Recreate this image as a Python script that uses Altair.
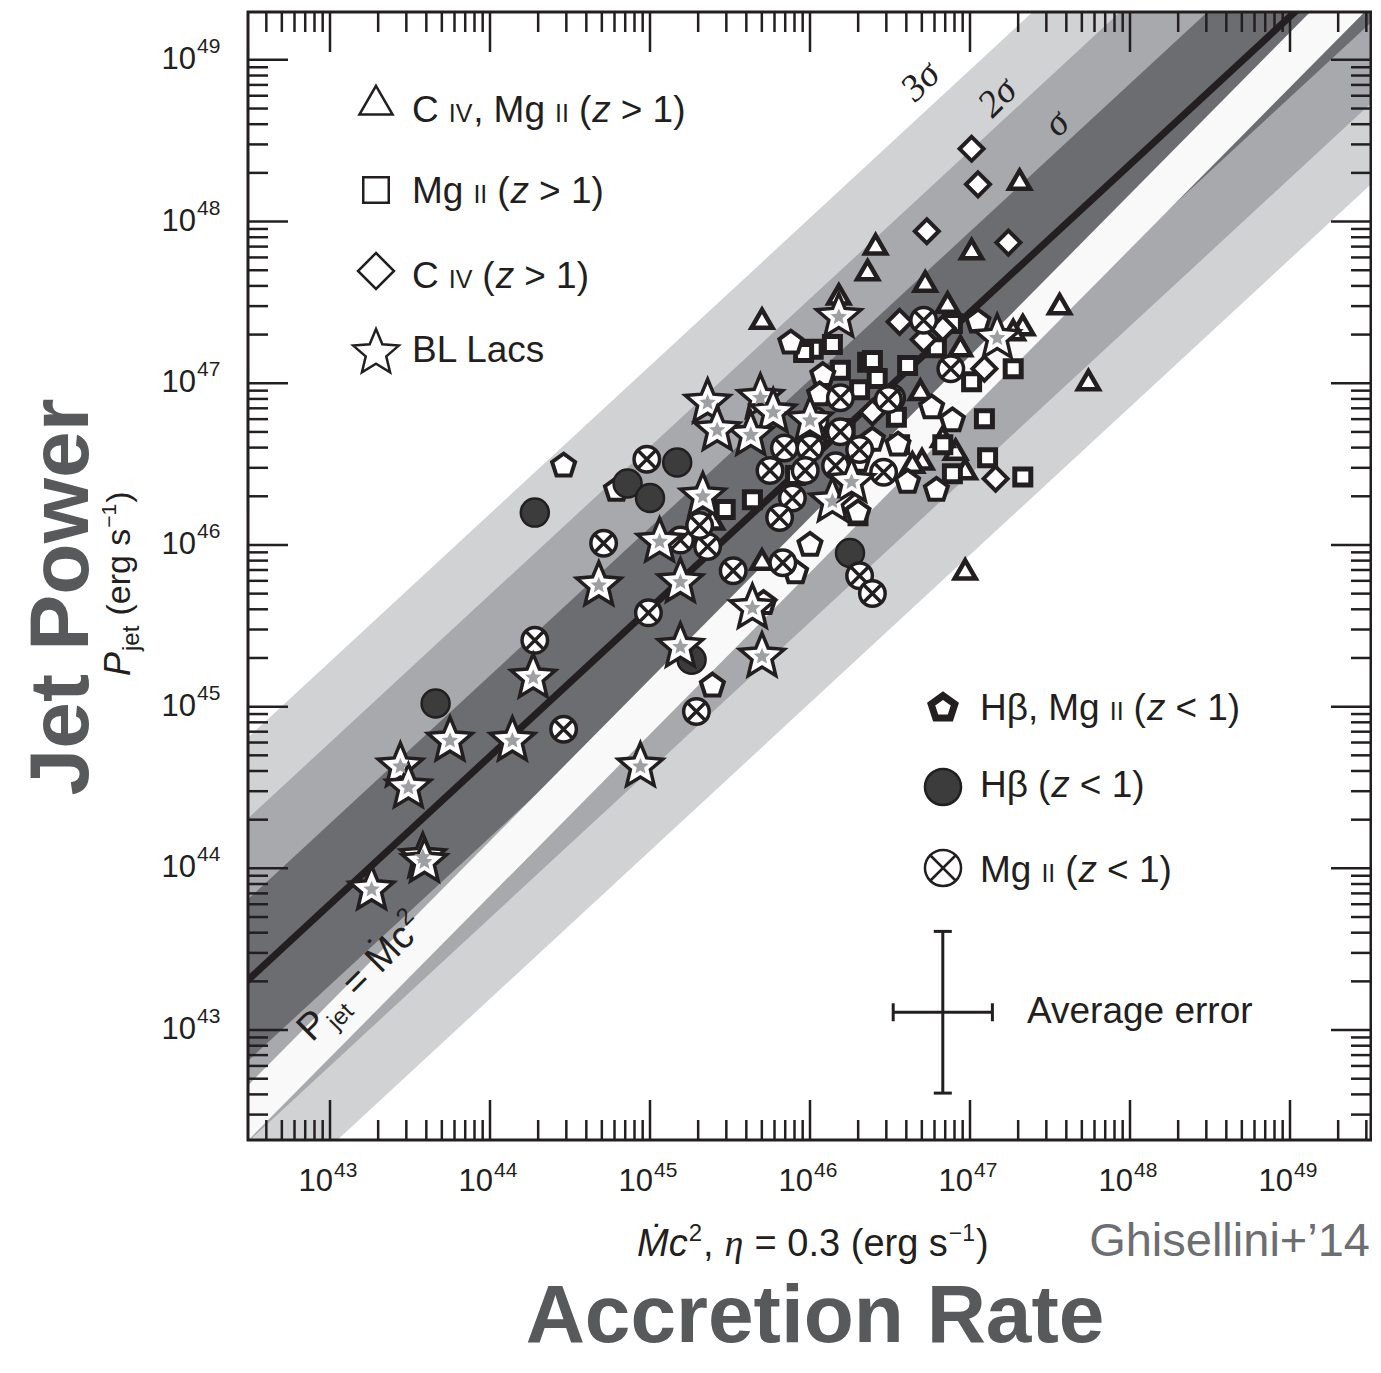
import numpy as np
import pandas as pd
import altair as alt

# ---------------- values (log10 units) ----------------
# C IV, Mg II (z > 1)  -- triangles
TRI_X = [47.31, 46.41, 46.36, 47.01, 46.72, 45.70, 47.56, 47.33, 46.86, 47.74, 46.97,
         46.94, 46.69, 46.70, 46.97, 46.91, 45.70, 45.39, 46.18, 47.27, 46.83, 46.64]
TRI_Y = [48.24, 47.84, 47.68, 47.81, 47.61, 47.38, 47.47, 47.34, 47.48, 47.00, 45.83,
         47.21, 46.94, 46.51, 46.45, 46.57, 45.89, 46.14, 47.53, 47.31, 46.65, 46.49]
# Mg II (z > 1)  -- squares
SQ_X = [46.02, 46.14, 45.96, 46.36, 46.19, 46.42, 46.31, 46.89, 46.61, 46.79, 47.27, 47.01, 47.09,
        47.11, 47.33, 46.89, 46.83, 46.54, 45.64, 45.47, 45.91, 46.39, 46.51, 46.30, 46.56, 46.22]
SQ_Y = [47.21, 47.24, 47.19, 47.13, 47.08, 47.03, 46.96, 47.37, 47.11, 47.22, 47.09, 47.01, 46.78,
        46.54, 46.42, 46.44, 46.62, 46.79, 46.28, 46.22, 46.43, 47.14, 46.91, 46.18, 46.62, 46.72]
# C IV (z > 1)  -- diamonds
DIA_X = [47.01, 47.05, 46.73, 47.24, 46.56, 46.83, 47.09, 46.71, 47.16, 46.39]
DIA_Y = [48.45, 48.23, 47.94, 47.87, 47.38, 47.34, 47.09, 47.27, 46.41, 46.82]
# H beta, Mg II (z < 1)  -- pentagons
PEN_X = [44.46, 44.79, 45.88, 46.08, 47.05, 46.89, 46.76, 46.55, 46.79, 46.61, 46.00, 46.30,
         45.71, 45.39, 46.39, 45.91, 46.30, 46.06]
PEN_Y = [46.49, 46.34, 47.25, 47.05, 47.38, 46.77, 46.85, 46.62, 46.34, 46.39, 46.00, 46.20,
         45.64, 45.13, 46.65, 45.83, 46.52, 46.93]
# H beta (z < 1)  -- filled circles
DOT_X = [44.28, 45.17, 44.86, 45.00, 46.25, 43.66, 45.26]
DOT_Y = [46.20, 46.51, 46.38, 46.29, 45.95, 45.02, 45.29]
# Mg II (z < 1)  -- crossed circles
XC_X = [44.98, 44.71, 44.99, 44.28, 44.46, 45.29, 45.89, 45.81, 45.83, 45.52, 45.36, 46.31, 46.39,
        46.19, 46.19, 46.02, 46.71, 46.88, 46.51, 46.46, 46.31, 46.00, 45.84, 45.75, 46.03, 45.19,
        46.49, 45.31, 46.16, 45.97]
XC_Y = [46.53, 46.01, 45.58, 45.41, 44.86, 44.97, 46.29, 46.17, 45.89, 45.84, 45.99, 45.81, 45.70,
        46.91, 46.70, 46.67, 47.39, 47.09, 46.91, 46.45, 46.59, 46.60, 46.60, 46.46, 46.77, 46.03,
        46.90, 46.12, 46.49, 46.46]
# BL Lacs  -- stars
STAR_X = [46.18, 47.17, 45.36, 45.69, 45.77, 45.63, 45.42, 46.00, 46.14, 46.26, 45.33, 45.06, 44.68,
          45.19, 45.64, 45.70, 45.19, 44.27, 43.75, 44.14, 43.44, 43.49, 43.58, 43.26, 44.94, 43.59]
STAR_Y = [47.41, 47.28, 46.88, 46.91, 46.82, 46.68, 46.71, 46.77, 46.27, 46.39, 46.30, 46.02, 45.75,
          45.77, 45.61, 45.31, 45.37, 45.18, 44.79, 44.79, 44.63, 44.50, 44.07, 43.87, 44.63, 44.04]

FIT_SLOPE = 0.915       # log Pjet = a + b log(Mdot c^2)
FIT_INTERCEPT = 4.433
SIGMA = 0.5             # dex
STRIP_HALF = 0.17       # half width of the Pjet = Mdot c^2 strip (dex)

ERR_X, ERR_Y, ERR_DX, ERR_DY = 46.83, 43.11, 0.31, 0.50

DECADES_X = [43, 44, 45, 46, 47, 48, 49]
DECADES_Y = [43, 44, 45, 46, 47, 48, 49]

# ---------------- layout / styling ----------------
W, H = 1123, 1128
X_LO = 42.4875
X_HI = X_LO + W / 160.0
Y_LO, Y_HI = 42.32, 49.296
INK = "#231f20"
FONT = "Liberation Sans"
LIGHT, MED, DARK, STRIP = "#d1d2d4", "#a8a9ac", "#6c6d70", "#f9f9f9"
GREY_TITLE = "#58595b"

xs = alt.Scale(type="log", domain=[10 ** X_LO, 10 ** X_HI], nice=False)
ys = alt.Scale(type="log", domain=[10 ** Y_LO, 10 ** Y_HI], nice=False)


def X(f):
    return alt.X(f"{f}:Q", scale=xs, axis=None)


def Y(f):
    return alt.Y(f"{f}:Q", scale=ys, axis=None)


def poly(n, r_out=1.0, r_in=None):
    p = []
    k = n * 2 if r_in else n
    for i in range(k):
        r = r_out if (r_in is None or i % 2 == 0) else r_in
        a = -np.pi / 2 + i * 2 * np.pi / k
        p.append((r * np.cos(a), r * np.sin(a)))
    return "M" + "L".join(f"{x:.4f},{y:.4f}" for x, y in p) + "Z"


STAR = poly(5, 1.0, 0.45)
PENT = poly(5)
TRI = "M0,-1.1547L1,0.5774L-1,0.5774Z"
SQR = "M-1,-1L1,-1L1,1L-1,1Z"
DIAM = "M0,-1L1,0L0,1L-1,0Z"
CIRC = "M-1,0A1,1,0,1,0,1,0A1,1,0,1,0,-1,0Z"
XCIRC = CIRC + "M-0.7071,-0.7071L0.7071,0.7071M-0.7071,0.7071L0.7071,-0.7071"

ONE = alt.Data(values=[{"a": 1}])

# approximate advance widths (em) of the sans font, used to set text runs side by side
ADV = {"C": .722, "I": .278, "V": .667, ",": .278, " ": .278, "M": .833, "Ṁ": .833, "g": .556,
       "(": .333, ")": .333, "z": .5, ">": .584, "<": .584, "=": .584, "1": .556, "0": .556,
       "3": .556, ".": .278, "B": .667, "L": .556, "a": .556, "c": .5, "s": .5, "H": .722,
       "β": .575, "e": .556, "r": .333, "j": .222, "t": .278, "P": .667, "η": .5, "−": .584,
       "2": .556}


def adv(text, fs):
    return sum(ADV.get(ch, .556) for ch in text) * fs


def label(text, px, py, **mk):
    props = dict(font=FONT, color=INK, align="left", baseline="alphabetic")
    props.update(mk)
    return alt.Chart(ONE).mark_text(**props).encode(
        x=alt.value(px), y=alt.value(py), text=alt.value(text))


def run(pieces, px, py, angle=0):
    """pieces: (text, fontSize, style, rise, font); text None = gap of given width in em of base."""
    out, pos = [], 0.0
    for text, fs, style, rise, font in pieces:
        if text is None:
            pos += fs
            continue
        mk = dict(fontSize=fs, fontStyle=style, font=font or FONT)
        if angle:
            out.append(label(text, px, py, angle=angle, dx=round(pos, 1), dy=-rise, **mk))
        else:
            out.append(label(text, round(px + pos, 1), py - rise, **mk))
        pos += adv(text, fs) + 1
    return out


def symbol(shape, px, py, size, **mk):
    props = dict(shape=shape, size=size, filled=True, fill="white", stroke=INK,
                 strokeWidth=2.5, opacity=1)
    props.update(mk)
    return alt.Chart(ONE).mark_point(**props).encode(x=alt.value(px), y=alt.value(py))


def pts(xv, yv):
    return pd.DataFrame({"x": 10 ** np.array(xv), "y": 10 ** np.array(yv)})


# ---------------- bands, strip, fit ----------------
grid = np.array([X_LO - 1.0, X_HI + 1.0])
fit = FIT_INTERCEPT + FIT_SLOPE * grid


def band_df(k):
    return pd.DataFrame({"x": 10 ** grid, "lo": 10 ** (fit - k * SIGMA), "hi": 10 ** (fit + k * SIGMA)})


layers = []
for k, col in [(3, LIGHT), (2, MED), (1, DARK)]:
    layers.append(alt.Chart(band_df(k)).mark_area(clip=True, color=col, opacity=1).encode(
        x=X("x"), y=Y("lo"), y2="hi:Q"))
strip = pd.DataFrame({"x": 10 ** grid, "lo": 10 ** (grid - STRIP_HALF), "hi": 10 ** (grid + STRIP_HALF)})
layers.append(alt.Chart(strip).mark_area(clip=True, color=STRIP, opacity=1).encode(
    x=X("x"), y=Y("lo"), y2="hi:Q"))
fit_df = pd.DataFrame({"x": 10 ** grid, "y": 10 ** fit})
layers.append(alt.Chart(fit_df).mark_line(clip=True, color=INK, strokeWidth=7).encode(x=X("x"), y=Y("y")))

# strip label  P_jet = Mdot c^2
layers += run([("P", 38, "normal", 0, None), ("jet", 24, "normal", -9, None), (None, 11, None, 0, None),
               ("=", 38, "normal", 0, None), (None, 10, None, 0, None), ("Ṁc", 38, "normal", 0, None),
               ("2", 24, "normal", 16, None)], 64, 1031, angle=315)
# sigma labels
for t, px, py in [("3σ", 673, 70), ("2σ", 750, 86), ("σ", 809, 112)]:
    layers.append(label(t, px, py, angle=315, fontSize=38, font="Liberation Serif",
                        fontStyle="italic", align="center", baseline="middle"))

# ---------------- data points ----------------
PT = dict(filled=True, fill="white", stroke=INK, opacity=1)
layers.append(alt.Chart(pts(TRI_X, TRI_Y)).mark_point(shape=TRI, size=441, strokeWidth=4.5, **PT).encode(
    x=X("x"), y=Y("y")))
layers.append(alt.Chart(pts(SQ_X, SQ_Y)).mark_point(shape=SQR, size=256, strokeWidth=5, **PT).encode(
    x=X("x"), y=Y("y")))
layers.append(alt.Chart(pts(DIA_X, DIA_Y)).mark_point(shape=DIAM, size=576, strokeWidth=4, **PT).encode(
    x=X("x"), y=Y("y")))
layers.append(alt.Chart(pts(PEN_X, PEN_Y)).mark_point(shape=PENT, size=585, strokeWidth=4, **PT).encode(
    x=X("x"), y=Y("y")))
layers.append(alt.Chart(pts(DOT_X, DOT_Y)).mark_point(
    shape=CIRC, size=784, strokeWidth=2.5, filled=True, fill="#3c3c3d", stroke=INK, opacity=1).encode(
    x=X("x"), y=Y("y")))
layers.append(alt.Chart(pts(XC_X, XC_Y)).mark_point(shape=XCIRC, size=650, strokeWidth=3.5, **PT).encode(
    x=X("x"), y=Y("y")))
layers.append(alt.Chart(pts(STAR_X, STAR_Y)).mark_point(shape=STAR, size=2190, strokeWidth=3.5, **PT).encode(
    x=X("x"), y=Y("y")))
layers.append(alt.Chart(pts(STAR_X, STAR_Y)).mark_point(
    shape=STAR, size=300, filled=True, fill="#9d9fa2", strokeWidth=0, opacity=1).encode(
    x=X("x"), y=Y("y")))

# ---------------- average error bar ----------------
err = pd.DataFrame({
    "x": [10 ** ERR_X], "y": [10 ** ERR_Y],
    "xl": [10 ** (ERR_X - ERR_DX)], "xh": [10 ** (ERR_X + ERR_DX)],
    "yl": [10 ** (ERR_Y - ERR_DY)], "yh": [10 ** (ERR_Y + ERR_DY)]})
layers.append(alt.Chart(err).mark_rule(color=INK, strokeWidth=3).encode(x=X("xl"), x2="xh:Q", y=Y("y")))
layers.append(alt.Chart(err).mark_rule(color=INK, strokeWidth=3).encode(x=X("x"), y=Y("yl"), y2="yh:Q"))
for fx, fy, orient in [("xl", "y", "vertical"), ("xh", "y", "vertical"),
                       ("x", "yl", "horizontal"), ("x", "yh", "horizontal")]:
    layers.append(alt.Chart(err).mark_tick(color=INK, orient=orient, size=18, thickness=3, opacity=1).encode(
        x=X(fx), y=Y(fy)))
layers.append(label("Average error", 779, 1011, fontSize=37))

# ---------------- legends ----------------
layers += [
    symbol(TRI, 128, 93, 1100),
    symbol(SQR, 128, 178, 650),
    symbol(DIAM, 128, 259, 1296),
    symbol(STAR, 128, 341, 2300),
    symbol(PENT, 695, 696, 620, stroke=INK, strokeWidth=7),
    symbol(CIRC, 695, 775, 1300, fill="#3c3c3d", strokeWidth=2.5),
    symbol(XCIRC, 695, 856, 1300, strokeWidth=2.5),
]
B, S = 37, 25
N = lambda t, fs=B: (t, fs, "normal", 0, None)
I_ = lambda t: (t, B, "italic", 0, None)
GAP = (None, 9, None, 0, None)
layers += run([N("C"), GAP, N("IV", S), N(","), GAP, N("Mg"), GAP, N("II", S), GAP, N("("), I_("z"),
               GAP, N("> 1)")], 164, 110)
layers += run([N("Mg"), GAP, N("II", S), GAP, N("("), I_("z"), GAP, N("> 1)")], 164, 191)
layers += run([N("C"), GAP, N("IV", S), GAP, N("("), I_("z"), GAP, N("> 1)")], 164, 276)
layers += run([N("BL Lacs")], 164, 350)
layers += run([N("Hβ,"), GAP, N("Mg"), GAP, N("II", S), GAP, N("("), I_("z"), GAP, N("< 1)")], 732, 708)
layers += run([N("Hβ"), GAP, N("("), I_("z"), GAP, N("< 1)")], 732, 785)
layers += run([N("Mg"), GAP, N("II", S), GAP, N("("), I_("z"), GAP, N("< 1)")], 732, 870)

# ---------------- inward ticks ----------------
def minor_vals(decades, lo, hi):
    out = []
    for d in range(min(decades) - 1, max(decades) + 1):
        for m in range(2, 10):
            v = d + np.log10(m)
            if lo < v < hi:
                out.append(10 ** v)
    return pd.DataFrame({"v": out})


maj_x = pd.DataFrame({"v": [10.0 ** d for d in DECADES_X], "t": [str(d) for d in DECADES_X]})
maj_y = pd.DataFrame({"v": [10.0 ** d for d in DECADES_Y], "t": [str(d) for d in DECADES_Y]})
min_x = minor_vals(DECADES_X, X_LO, X_HI)
min_y = minor_vals(DECADES_Y, Y_LO, Y_HI)
TK = dict(color=INK, strokeWidth=2.5)
for df, ln in [(maj_x, 40), (min_x, 20)]:
    layers.append(alt.Chart(df).mark_rule(**TK).encode(x=X("v"), y=alt.value(H), y2=alt.value(H - ln)))
    layers.append(alt.Chart(df).mark_rule(**TK).encode(x=X("v"), y=alt.value(0), y2=alt.value(ln)))
for df, ln in [(maj_y, 40), (min_y, 20)]:
    layers.append(alt.Chart(df).mark_rule(**TK).encode(y=Y("v"), x=alt.value(0), x2=alt.value(ln)))
    layers.append(alt.Chart(df).mark_rule(**TK).encode(y=Y("v"), x=alt.value(W), x2=alt.value(W - ln)))

# frame
layers.append(alt.Chart(ONE).mark_rect(fillOpacity=0, stroke=INK, strokeWidth=3).encode(
    x=alt.value(0), x2=alt.value(W), y=alt.value(0), y2=alt.value(H)))

# tick labels: 10^n
TL = dict(font=FONT, color=INK)
layers.append(alt.Chart(maj_x).mark_text(fontSize=31, align="right", baseline="top", dx=3, **TL).encode(
    x=X("v"), y=alt.value(H + 27), text=alt.value("10")))
layers.append(alt.Chart(maj_x).mark_text(fontSize=21, align="left", baseline="top", dx=4, **TL).encode(
    x=X("v"), y=alt.value(H + 20), text="t:N"))
layers.append(alt.Chart(maj_y).mark_text(fontSize=31, align="right", baseline="middle", **TL).encode(
    x=alt.value(-52), y=Y("v"), text=alt.value("10")))
layers.append(alt.Chart(maj_y).mark_text(fontSize=21, align="left", baseline="middle", dy=-13, **TL).encode(
    x=alt.value(-51), y=Y("v"), text="t:N"))

# ---------------- titles ----------------
layers.append(label("Jet Power", -160, 585, angle=270, align="center", fontSize=84, fontWeight="bold",
                    color=GREY_TITLE))
layers += run([("P", 36, "italic", 0, None), ("jet", 24, "normal", -9, None), (None, 9, None, 0, None),
               ("(erg s", 34, "normal", 0, None), ("−1", 21, "normal", 14, None), (")", 34, "normal", 0, None)],
              -118, 664, angle=270)
layers += run([("Ṁc", 38, "italic", 0, None), ("2", 24, "normal", 15, None), (",", 38, "normal", 0, None),
               (None, 10, None, 0, None), ("η", 38, "italic", 0, "Liberation Serif"), (None, 10, None, 0, None),
               ("= 0.3 (erg s", 38, "normal", 0, None), ("−1", 23, "normal", 15, None),
               (")", 38, "normal", 0, None)], 389, 1244)
layers += [
    label("Ghisellini+’14", 1122, 1244, align="right", fontSize=47, color="#6d6e71"),
    label("Accretion Rate", 567, 1330, align="center", fontSize=82, fontWeight="bold", color=GREY_TITLE),
]

chart = alt.layer(*layers).properties(
    width=W, height=H,
    autosize=alt.AutoSizeParams(type="none"),
    padding={"left": 240, "top": 4, "right": 1, "bottom": 218},
).configure_view(stroke=None)

chart.save("out.html", embed_options={"renderer": "svg", "actions": False})
